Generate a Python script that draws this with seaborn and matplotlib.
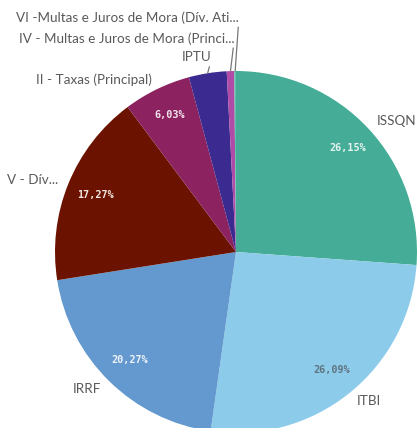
import numpy as np
import matplotlib
matplotlib.use("Agg")
import matplotlib.pyplot as plt
import seaborn as sns

# =============================================================================
# DATA
# =============================================================================

LABELS = ['ISSQN', 'ITBI', 'IRRF', 'V - Dív...', 'II - Taxas (Principal)', 'IPTU',
          'IV - Multas e Juros de Mora (Princi...', 'VI -Multas e Juros de Mora (Dív. Ati...']
VALUES = [26.15, 26.09, 20.27, 17.27, 6.03, 3.37, 0.67, 0.15]
COLORS = ['#45ad97', '#8ccbea', '#6399cf', '#6b1300', '#8c2360', '#3b2a8f', '#b04ba8', '#5fc0a8']
PCT_COLORS = ['#e6f4ef', '#5f7480', '#eef3fa', '#f2e6e3', '#f4e6ee', '#ffffff', '#ffffff', '#ffffff']

# small slices get leader lines: (text height in radius units)
LEADER_Y = {'IPTU': 1.075, 'IV - Multas e Juros de Mora (Princi...': 1.18,
            'VI -Multas e Juros de Mora (Dív. Ati...': 1.295}

TEXT_COLOR = '#595959'

# =============================================================================
# PLOT
# =============================================================================

sns.set_theme(style="white")
plt.rcParams['font.family'] = ['Lato', 'DejaVu Sans']

W, H = 418, 428
fig = plt.figure(figsize=(W / 100, H / 100), dpi=100)
cx, cy, r = 236, 252, 181
ax = fig.add_axes([(cx - r) / W, (H - cy - r) / H, 2 * r / W, 2 * r / H])

wedges, _ = ax.pie(VALUES, colors=COLORS, startangle=90, counterclock=False,
                   radius=1.0, wedgeprops=dict(linewidth=0))
ax.set_xlim(-1, 1)
ax.set_ylim(-1, 1)
ax.set_aspect('equal')
ax.axis('off')

for w, lab, val, pc in zip(wedges, LABELS, VALUES, PCT_COLORS):
    w.set_clip_on(False)
    mid = np.deg2rad((w.theta1 + w.theta2) / 2)
    ux, uy = np.cos(mid), np.sin(mid)
    if lab in LEADER_Y:
        ex, ey = ux * 1.0, uy * 1.0
        ty = LEADER_Y[lab]
        ax.annotate(lab, xy=(ex, ey), xytext=(ex + 0.02, ty), ha='right', va='center',
                    fontsize=9.7, color=TEXT_COLOR, annotation_clip=False,
                    arrowprops=dict(arrowstyle='-', color='#777777', lw=0.9,
                                    shrinkA=0, shrinkB=0, relpos=(1.0, 0.3)))
        continue
    ha = 'left' if ux > 0 else 'right'
    ax.text(ux * 1.06, uy * 1.06, lab, ha=ha, va='center', fontsize=9.7,
            color=TEXT_COLOR, clip_on=False)
    ax.text(ux * 0.84, uy * 0.84, f"{val:.2f}%".replace('.', ','), ha='center',
            va='center', fontsize=7.3, fontweight='bold', color=pc,
            family='DejaVu Sans Mono')

fig.savefig("out.png", dpi=100)
plt.close(fig)
